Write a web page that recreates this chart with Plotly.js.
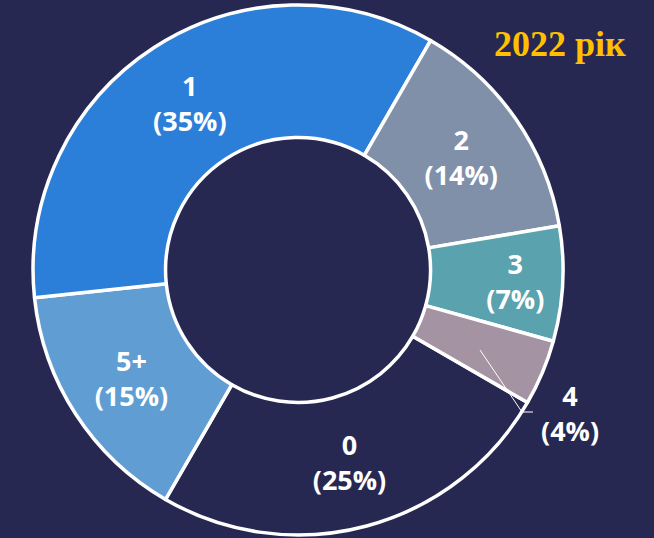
<!DOCTYPE html>
<html>
<head>
<meta charset="utf-8">
<script src="https://cdn.plot.ly/plotly-3.0.1.min.js"></script>
<style>
html,body{margin:0;padding:0;background:#262852;}
#chart{width:654px;height:538px;}
</style>
</head>
<body>
<div id="chart"></div>
<script>
var categories = ["0", "5+", "1", "2", "3", "4"];
var shares = [25, 15, 35, 14, 7, 4];
var sliceColors = ["#262852", "#5f9dd2", "#2b7fd8", "#8190a9", "#5aa3ae", "#a393a3"];
var textPositions = ["inside", "inside", "inside", "inside", "inside", "none"];
var chartTitle = "2022 рік";

var bg = "#262852";
var labelFont = {family: "Open Sans, sans-serif", size: 27, color: "#ffffff", weight: "bold"};

var trace = {
  type: "pie",
  labels: categories,
  values: shares,
  sort: false,
  direction: "clockwise",
  rotation: 120,
  hole: 0.5,
  marker: {colors: sliceColors, line: {color: "#ffffff", width: 3.5}},
  texttemplate: "%{label}<br>(%{percent})",
  textposition: textPositions,
  insidetextorientation: "horizontal",
  textfont: labelFont,
  domain: {x: [0.0505, 0.861], y: [0.0056, 0.9907]},
  showlegend: false,
  automargin: false
};

// outside label for the small slice, built from the data arrays
var smallIdx = 5;
var total = shares.reduce(function (a, b) { return a + b; }, 0);
var smallText = categories[smallIdx] + "<br>(" + Math.round(100 * shares[smallIdx] / total) + "%)";

var layout = {
  width: 654,
  height: 538,
  margin: {l: 0, r: 0, t: 0, b: 0},
  paper_bgcolor: bg,
  plot_bgcolor: bg,
  showlegend: false,
  title: {
    text: "<b>" + chartTitle + "</b>",
    x: 0.856, xanchor: "center",
    y: 0.92, yanchor: "middle",
    font: {family: "Liberation Serif, Times New Roman, serif", size: 36, color: "#ffc000"}
  },
  annotations: [
    {xref: "paper", yref: "paper", x: 570/654, y: 1 - 413/538, xanchor: "center", yanchor: "middle",
     text: smallText, showarrow: false, font: labelFont}
  ],
  shapes: [
    {type: "line", xref: "paper", yref: "paper", x0: 480/654, y0: 1-350/538, x1: 522/654, y1: 1-412/538, line: {color: "#ffffff", width: 1}},
    {type: "line", xref: "paper", yref: "paper", x0: 522/654, y0: 1-412/538, x1: 533/654, y1: 1-412/538, line: {color: "#ffffff", width: 1}}
  ]
};

Plotly.newPlot("chart", [trace], layout, {displayModeBar: false, staticPlot: true});
</script>
</body>
</html>
